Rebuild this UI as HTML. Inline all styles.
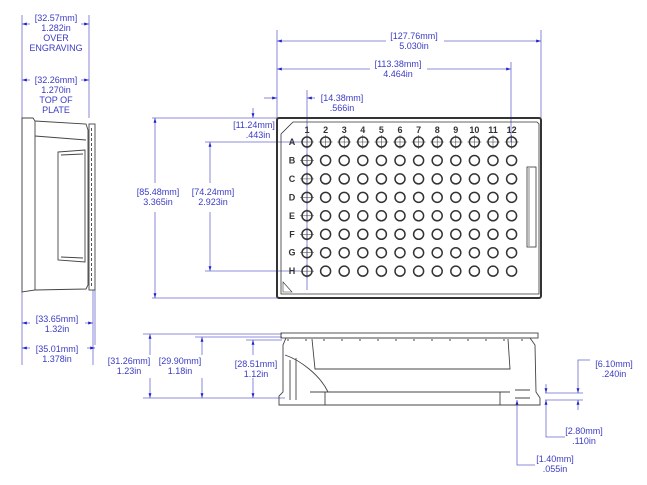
<!DOCTYPE html>
<html><head><style>
html,body{margin:0;padding:0;background:#fff;}
svg{display:block;}
text{font-family:"Liberation Sans",sans-serif;font-size:9px;fill:#3c3cc4;text-anchor:middle;}
.k text{fill:#333;font-size:9px;font-weight:bold;}
</style></head><body>
<svg width="647" height="485" viewBox="0 0 647 485" xmlns="http://www.w3.org/2000/svg">
<defs>
<marker id="a" viewBox="0 0 10 6" refX="10" refY="3" markerWidth="6" markerHeight="4" orient="auto-start-reverse"><path d="M0,0L10,3L0,6z" fill="#2020d0"/></marker>
</defs>
<g stroke="#6a6ad0" stroke-width="0.8" fill="none">
<line x1="22" y1="15" x2="22" y2="365"/>
<line x1="89" y1="15" x2="89" y2="118"/>
<line x1="93" y1="290" x2="93" y2="365"/>
<line x1="95" y1="290" x2="95" y2="345"/>
<line x1="22" y1="24" x2="30" y2="24" marker-end="url(#a)" transform="rotate(180 26 24)"/>
<line x1="81" y1="24" x2="89" y2="24" marker-end="url(#a)"/>
<line x1="22" y1="80" x2="30" y2="80" marker-end="url(#a)" transform="rotate(180 26 80)"/>
<line x1="81" y1="80" x2="89" y2="80" marker-end="url(#a)"/>
<line x1="22" y1="323" x2="30" y2="323" marker-end="url(#a)" transform="rotate(180 26 323)"/>
<line x1="85" y1="323" x2="93" y2="323" marker-end="url(#a)"/>
<line x1="22" y1="348" x2="30" y2="348" marker-end="url(#a)" transform="rotate(180 26 348)"/>
<line x1="87" y1="348" x2="95" y2="348" marker-end="url(#a)"/>
<line x1="277" y1="30" x2="277" y2="118"/>
<line x1="541" y1="30" x2="541" y2="118"/>
<line x1="511" y1="62" x2="511" y2="142"/>
<line x1="307" y1="90" x2="307" y2="290"/>
<line x1="277" y1="41" x2="386" y2="41" marker-start="url(#a)"/>
<line x1="444" y1="41" x2="541" y2="41" marker-end="url(#a)"/>
<line x1="277" y1="69" x2="370" y2="69" marker-start="url(#a)"/>
<line x1="427" y1="69" x2="511" y2="69" marker-end="url(#a)"/>
<line x1="264" y1="98" x2="277" y2="98" marker-end="url(#a)"/>
<line x1="315" y1="98" x2="307" y2="98" marker-end="url(#a)"/>
<line x1="152" y1="118" x2="277" y2="118"/>
<line x1="152" y1="298" x2="277" y2="298"/>
<line x1="205" y1="142" x2="300" y2="142"/>
<line x1="205" y1="271" x2="300" y2="271"/>
<line x1="155" y1="118" x2="155" y2="183" marker-start="url(#a)"/>
<line x1="155" y1="212" x2="155" y2="298" marker-end="url(#a)"/>
<line x1="210" y1="142" x2="210" y2="183" marker-start="url(#a)"/>
<line x1="210" y1="212" x2="210" y2="271" marker-end="url(#a)"/>
<line x1="253" y1="108" x2="253" y2="118" marker-end="url(#a)"/>
<line x1="143" y1="334" x2="282" y2="334"/>
<line x1="195" y1="337" x2="282" y2="337"/>
<line x1="246" y1="340" x2="282" y2="340"/>
<line x1="143" y1="398" x2="285" y2="398"/>
<line x1="150" y1="334" x2="150" y2="355" marker-start="url(#a)"/>
<line x1="150" y1="378" x2="150" y2="398" marker-end="url(#a)"/>
<line x1="202" y1="337" x2="202" y2="355" marker-start="url(#a)"/>
<line x1="202" y1="378" x2="202" y2="398" marker-end="url(#a)"/>
<line x1="253" y1="340" x2="253" y2="355" marker-start="url(#a)"/>
<line x1="253" y1="378" x2="253" y2="398" marker-end="url(#a)"/>
<line x1="545" y1="393" x2="583" y2="393"/>
<line x1="545" y1="400" x2="583" y2="400"/>
<polyline points="590,360 578,360 578,393" marker-end="url(#a)"/>
<line x1="578" y1="410" x2="578" y2="400" marker-end="url(#a)"/>
<polyline points="565,437 546,437 546,400" marker-end="url(#a)"/>
<line x1="546" y1="384" x2="546" y2="393" marker-end="url(#a)"/>
<polyline points="535,465 517,465 517,400" marker-end="url(#a)"/>
</g>
<text x="56" y="21">[32.57mm]</text><text x="56" y="31">1.282in</text><text x="56" y="41">OVER</text><text x="56" y="51">ENGRAVING</text>
<text x="56" y="83">[32.26mm]</text><text x="56" y="93">1.270in</text><text x="56" y="103">TOP OF</text><text x="56" y="113">PLATE</text>
<text x="57" y="322">[33.65mm]</text><text x="57" y="332">1.32in</text>
<text x="57" y="352">[35.01mm]</text><text x="57" y="362">1.378in</text>
<text x="414" y="39">[127.76mm]</text><text x="414" y="49">5.030in</text>
<text x="398" y="67">[113.38mm]</text><text x="398" y="77">4.464in</text>
<text x="342" y="101">[14.38mm]</text><text x="342" y="111">.566in</text>
<text x="254" y="128">[11.24mm]</text><text x="258" y="138">.443in</text>
<text x="158" y="195">[85.48mm]</text><text x="158" y="205">3.365in</text>
<text x="213" y="195">[74.24mm]</text><text x="213" y="205">2.923in</text>
<text x="129" y="364">[31.26mm]</text><text x="129" y="374">1.23in</text>
<text x="180" y="364">[29.90mm]</text><text x="180" y="374">1.18in</text>
<text x="256" y="367">[28.51mm]</text><text x="256" y="377">1.12in</text>
<text x="614" y="367">[6.10mm]</text><text x="614" y="377">.240in</text>
<text x="584" y="434">[2.80mm]</text><text x="584" y="444">.110in</text>
<text x="555" y="462">[1.40mm]</text><text x="555" y="472">.055in</text>
<g stroke="#444" stroke-width="0.9" fill="none">
<path d="M22,118 L33,118 L35,121 L35,290 L22,292 Z"/>
<path d="M35,121 L86,124 L88,130 L88,285 L86,289 L35,290"/>
<path d="M35,136 L86,140"/>
<path d="M58,152 L85,150 L85,262 L58,260 Z"/>
<path d="M61,155 L83,154 M61,257 L83,258"/>
<rect x="89" y="124" width="6" height="166"/>
<line x1="91.5" y1="128" x2="91.5" y2="286" stroke-dasharray="3,2"/>
</g>
<g stroke="#333" fill="none">
<rect x="277" y="118" width="264" height="180" rx="2" stroke-width="2"/>
<path d="M293,122 L537,122 L539,124 L539,294 L281,294 L281,134 Z" stroke-width="0.8"/>
<rect x="527" y="167" width="9" height="80" stroke-width="0.8"/>
<line x1="529" y1="168" x2="529" y2="246" stroke-width="0.6"/>
<path d="M283,282 L292,292 L283,292 Z" stroke-width="0.6"/>
</g>
<g id="holes" stroke="#333" stroke-width="1.5" fill="none"></g>
<g class="k" id="labels"></g>
<g stroke="#444" stroke-width="0.9" fill="none">
<rect x="281" y="333" width="257" height="5"/>
<path d="M286,338 L530,338 L535,345 L536,392 L540,398 L540,405 L279,405 L279,396 L283,392 L283,345 Z"/>
<path d="M312,339 L315,369 L510,369 L508,339"/>
<path d="M310,392 L510,392 M325,392 L325,405 M500,392 L500,405"/>
<path d="M285,355 C300,360 320,375 328,392"/>
<path d="M290,360 L290,400 M296,358 L296,400 M515,390 L530,390 M515,398 L530,398"/>
<line x1="287" y1="340" x2="535" y2="340" stroke-dasharray="2,16"/>
</g>
<script>
var h=document.getElementById('holes'),l=document.getElementById('labels'),ns='http://www.w3.org/2000/svg';
var rows='ABCDEFGH';
for(var c=0;c<12;c++){var x=307+c*18.6;
 var t=document.createElementNS(ns,'text');t.setAttribute('x',x);t.setAttribute('y',133);t.textContent=c+1;l.appendChild(t);
 for(var r=0;r<8;r++){var y=142+r*18.45;var e=document.createElementNS(ns,'circle');e.setAttribute('cx',x);e.setAttribute('cy',y);e.setAttribute('r',5);h.appendChild(e);
 if(c==0||r==0){var p=document.createElementNS(ns,'path');p.setAttribute('d','M'+(x-7)+','+y+'h14M'+x+','+(y-7)+'v14');p.setAttribute('stroke-width','0.5');h.appendChild(p);}}}
for(var r=0;r<8;r++){var t=document.createElementNS(ns,'text');t.setAttribute('x',292);t.setAttribute('y',145+r*18.45);t.textContent=rows[r];l.appendChild(t);}
</script>
</svg>
</body></html>
